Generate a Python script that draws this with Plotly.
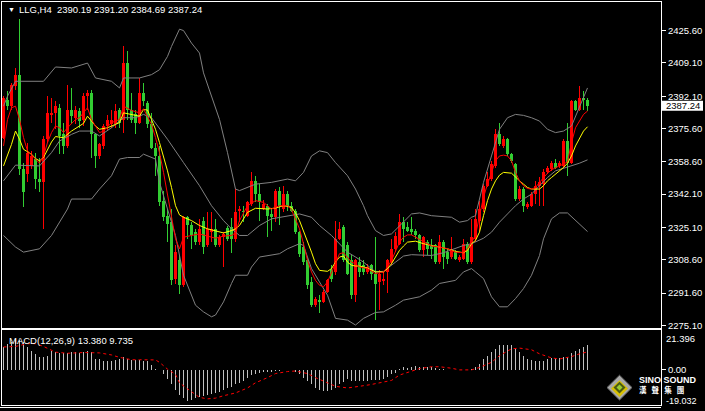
import plotly.graph_objects as go

W, H = 705, 411

# ---------------- data ----------------
opens = [2370.9, 2390.4, 2387.0, 2397.2, 2403.1, 2354.9, 2352.3, 2356.5, 2359.9, 2349.8,
         2348.1, 2370.1, 2382.3, 2383.3, 2386.2, 2372.6, 2366.7, 2385.3, 2381.1, 2384.5,
         2380.2, 2392.1, 2393.8, 2372.6, 2361.6, 2366.7, 2376.9, 2377.7, 2377.7, 2385.3,
         2380.2, 2409.0, 2385.3, 2382.8, 2378.6, 2393.8, 2388.7, 2377.7, 2365.9, 2361.6,
         2338.7, 2331.1, 2327.8, 2299.0, 2308.3, 2295.6, 2330.3, 2326.1, 2322.7, 2317.6,
         2328.6, 2315.9, 2322.7, 2324.4, 2315.9, 2320.0, 2325.0, 2325.3, 2319.3, 2333.7,
         2333.7, 2331.1, 2337.1, 2348.9, 2342.2, 2334.5, 2336.2, 2332.0, 2330.3, 2343.9,
         2334.5, 2342.2, 2336.2, 2333.7, 2322.7, 2315.0, 2308.3, 2297.3, 2285.4, 2288.0,
         2287.1, 2292.2, 2303.2, 2302.4, 2319.3, 2325.3, 2315.9, 2308.3, 2290.5, 2307.4,
         2305.7, 2302.4, 2305.7, 2301.5, 2297.3, 2298.0, 2302.4, 2307.4, 2314.2, 2316.8,
         2327.8, 2325.3, 2324.4, 2323.5, 2321.0, 2313.4, 2317.6, 2315.9, 2315.9, 2307.4,
         2317.6, 2312.5, 2310.0, 2312.5, 2308.3, 2309.1, 2316.8, 2307.4, 2319.3, 2328.6,
         2334.5, 2346.4, 2349.8, 2356.6, 2372.6, 2366.7, 2370.1, 2362.5, 2357.4, 2339.6,
         2344.7, 2335.4, 2336.2, 2342.2, 2346.4, 2347.2, 2353.2, 2354.9, 2358.2, 2356.6,
         2356.6, 2369.2, 2358.2, 2389.5, 2385.3, 2391.2, 2390.19]
highs = [2392.1, 2394.6, 2398.9, 2406.5, 2431.4, 2358.2, 2368.4, 2364.2, 2363.3, 2360.8,
         2371.8, 2392.1, 2391.2, 2389.5, 2387.9, 2378.6, 2398.0, 2396.3, 2387.0, 2386.2,
         2393.8, 2395.5, 2395.5, 2373.5, 2368.4, 2378.0, 2382.3, 2385.0, 2388.0, 2386.0,
         2417.8, 2415.0, 2393.8, 2385.3, 2401.4, 2398.9, 2389.5, 2383.6, 2368.4, 2366.7,
         2343.9, 2334.5, 2334.5, 2316.0, 2310.8, 2331.1, 2331.1, 2327.8, 2324.4, 2329.5,
         2330.3, 2332.8, 2332.8, 2329.5, 2321.0, 2323.0, 2326.0, 2330.0, 2344.7, 2336.0,
         2336.2, 2338.7, 2353.2, 2351.5, 2347.2, 2339.0, 2337.0, 2334.5, 2344.7, 2345.5,
         2346.4, 2343.9, 2337.9, 2334.5, 2323.5, 2317.6, 2310.0, 2299.8, 2289.7, 2290.5,
         2293.0, 2299.0, 2305.7, 2328.6, 2327.8, 2326.1, 2317.6, 2310.8, 2309.0, 2310.0,
         2308.3, 2306.6, 2306.6, 2320.1, 2303.2, 2302.4, 2309.1, 2319.3, 2322.7, 2332.0,
         2330.3, 2327.8, 2330.3, 2324.4, 2321.8, 2320.9, 2318.5, 2319.3, 2316.8, 2321.0,
         2318.5, 2314.2, 2320.1, 2313.4, 2310.8, 2319.3, 2317.6, 2329.5, 2334.5, 2338.7,
         2347.2, 2353.2, 2359.1, 2375.2, 2378.6, 2371.8, 2370.9, 2363.3, 2358.2, 2346.4,
         2345.5, 2337.9, 2343.0, 2348.9, 2350.6, 2354.9, 2356.6, 2359.1, 2359.9, 2359.1,
         2370.1, 2378.6, 2390.4, 2390.4, 2397.2, 2394.6, 2391.20]
lows = [2370.1, 2385.3, 2385.3, 2395.5, 2352.0, 2335.4, 2348.1, 2354.9, 2344.7, 2343.0,
        2324.4, 2368.4, 2378.6, 2375.2, 2362.5, 2362.5, 2365.9, 2377.7, 2377.7, 2376.0,
        2376.9, 2385.3, 2360.8, 2355.7, 2360.0, 2365.0, 2375.0, 2376.0, 2376.0, 2376.0,
        2373.5, 2380.0, 2378.6, 2372.6, 2377.7, 2387.0, 2376.0, 2365.0, 2351.5, 2336.2,
        2328.6, 2317.6, 2295.6, 2296.0, 2290.9, 2294.8, 2319.3, 2314.2, 2315.9, 2316.0,
        2311.7, 2315.1, 2317.6, 2315.1, 2315.1, 2305.0, 2318.0, 2312.0, 2317.6, 2328.0,
        2327.8, 2330.3, 2336.2, 2337.9, 2328.6, 2334.0, 2320.1, 2323.5, 2327.8, 2326.1,
        2332.8, 2333.7, 2332.8, 2321.8, 2310.0, 2305.7, 2293.9, 2284.6, 2284.6, 2281.2,
        2286.3, 2291.4, 2297.3, 2300.7, 2318.5, 2307.4, 2300.7, 2288.8, 2287.1, 2299.8,
        2300.7, 2301.5, 2298.1, 2277.8, 2282.9, 2295.6, 2291.4, 2305.7, 2312.5, 2315.9,
        2317.6, 2322.7, 2321.0, 2319.3, 2312.5, 2310.0, 2310.8, 2309.1, 2306.6, 2306.6,
        2304.0, 2306.6, 2309.1, 2308.3, 2307.4, 2308.3, 2306.6, 2306.6, 2317.6, 2323.5,
        2332.8, 2345.5, 2349.0, 2355.7, 2366.7, 2365.9, 2361.6, 2358.2, 2338.8, 2338.8,
        2332.8, 2334.5, 2335.4, 2337.1, 2336.2, 2336.2, 2352.3, 2354.0, 2354.9, 2355.7,
        2355.7, 2351.5, 2357.4, 2384.5, 2384.5, 2385.3, 2384.69]
closes = [2391.2, 2387.0, 2398.0, 2403.1, 2354.9, 2343.0, 2363.3, 2361.6, 2349.8, 2348.1,
          2370.1, 2383.6, 2383.6, 2387.0, 2371.8, 2366.7, 2385.3, 2381.9, 2385.3, 2379.4,
          2392.4, 2393.8, 2372.6, 2361.6, 2367.5, 2376.9, 2380.2, 2380.2, 2384.5, 2378.6,
          2409.0, 2385.3, 2380.2, 2378.6, 2393.8, 2389.5, 2377.7, 2365.9, 2361.6, 2337.9,
          2330.3, 2326.9, 2298.1, 2312.5, 2295.6, 2330.3, 2326.1, 2321.0, 2317.6, 2324.4,
          2315.1, 2324.4, 2324.4, 2315.9, 2320.1, 2322.0, 2319.0, 2319.3, 2332.8, 2334.5,
          2332.8, 2337.9, 2348.9, 2342.2, 2337.9, 2337.0, 2331.1, 2330.3, 2343.9, 2336.2,
          2342.2, 2336.2, 2333.7, 2322.7, 2311.7, 2307.4, 2295.6, 2285.4, 2288.8, 2287.0,
          2292.2, 2298.1, 2299.0, 2319.3, 2324.4, 2308.3, 2301.5, 2290.5, 2308.3, 2302.4,
          2302.4, 2305.0, 2301.5, 2296.4, 2301.5, 2299.0, 2308.3, 2314.2, 2320.9, 2327.8,
          2324.4, 2323.5, 2322.7, 2321.0, 2313.4, 2320.1, 2314.2, 2314.2, 2307.4, 2317.6,
          2310.0, 2309.1, 2314.2, 2309.1, 2310.0, 2316.8, 2307.4, 2320.0, 2329.5, 2334.5,
          2346.4, 2349.8, 2357.4, 2372.6, 2367.5, 2370.1, 2362.5, 2359.1, 2339.6, 2344.7,
          2336.2, 2337.0, 2342.2, 2346.4, 2348.1, 2353.2, 2355.7, 2358.2, 2355.7, 2358.2,
          2369.2, 2358.2, 2389.5, 2385.3, 2391.2, 2390.4, 2387.24]

# Bollinger bands (bar index, price)
bb_up_idx = [0, 1, 3, 10, 13, 17, 21, 23, 27, 29, 30, 34, 37, 39, 41, 42, 44, 45, 47, 49, 50, 52, 54, 56,
             58, 59, 61, 63, 67, 71, 73, 75, 77, 79, 81, 83, 86, 88, 90, 91, 93, 95, 97, 100, 102, 104,
             107, 112, 114, 116, 117, 118, 120, 122, 124, 126, 128, 130, 132, 134, 136, 138, 140, 142, 144, 146]
bb_up = [2387.0, 2392.1, 2399.7, 2399.7, 2407.0, 2406.5, 2409.0, 2401.4, 2399.7, 2396.3, 2401.4, 2401.4,
         2403.1, 2405.6, 2412.4, 2417.5, 2426.3, 2425.6, 2419.2, 2414.1, 2404.0, 2392.1, 2380.2, 2363.3,
         2344.7, 2343.9, 2345.5, 2347.2, 2348.1, 2349.8, 2348.9, 2353.2, 2361.6, 2364.2, 2363.3, 2358.2,
         2351.5, 2344.7, 2336.2, 2331.1, 2323.5, 2321.0, 2321.8, 2327.8, 2332.0, 2332.5, 2331.1, 2330.3,
         2327.8, 2328.6, 2330.3, 2331.1, 2348.1, 2361.6, 2375.2, 2381.1, 2382.8, 2382.3, 2381.1, 2379.4,
         2375.2, 2373.5, 2374.3, 2376.9, 2387.0, 2396.3]
bb_mid_idx = [0, 3, 9, 12, 14, 17, 19, 22, 24, 27, 29, 30, 33, 35, 37, 41, 45, 49, 52, 55, 57, 59, 61, 64,
              67, 71, 74, 77, 79, 82, 84, 86, 88, 90, 93, 95, 98, 100, 102, 107, 110, 113, 115, 117, 118,
              120, 122, 124, 126, 128, 130, 132, 134, 136, 138, 140, 142, 144, 146]
bb_mid = [2348.9, 2356.9, 2356.5, 2363.3, 2369.2, 2372.6, 2374.3, 2374.3, 2371.8, 2376.0, 2379.4, 2381.1,
          2381.1, 2382.8, 2381.1, 2370.1, 2358.2, 2346.4, 2336.2, 2328.6, 2324.4, 2321.0, 2321.0, 2326.1,
          2329.5, 2331.1, 2332.0, 2330.3, 2326.1, 2321.0, 2316.8, 2312.5, 2310.0, 2307.4, 2302.4, 2302.7,
          2307.4, 2310.5, 2311.2, 2310.8, 2312.2, 2314.2, 2315.9, 2316.8, 2317.6, 2319.6, 2322.7, 2327.8,
          2332.0, 2336.2, 2339.6, 2342.1, 2346.4, 2350.6, 2354.0, 2355.2, 2356.6, 2357.9, 2359.6]
bb_low_idx = [0, 3, 5, 9, 12, 14, 16, 17, 22, 24, 27, 29, 31, 34, 35, 38, 39, 41, 43, 45, 48, 50, 52, 53,
              55, 57, 58, 61, 62, 64, 67, 69, 71, 74, 75, 77, 79, 81, 83, 86, 88, 90, 93, 95, 98, 100, 104,
              107, 109, 113, 115, 117, 118, 120, 122, 124, 126, 128, 130, 132, 134, 135, 137, 139, 141, 143, 146]
bb_low = [2321.0, 2315.1, 2312.5, 2314.2, 2321.0, 2327.8, 2334.5, 2339.6, 2339.6, 2344.7, 2351.5, 2360.0,
          2360.8, 2360.8, 2362.5, 2360.0, 2348.1, 2334.5, 2321.0, 2300.7, 2285.4, 2282.0, 2279.5, 2280.4,
          2287.1, 2296.5, 2300.7, 2300.7, 2304.9, 2310.0, 2310.8, 2311.7, 2314.2, 2316.8, 2315.9, 2304.1,
          2297.3, 2290.5, 2278.7, 2277.8, 2275.3, 2278.7, 2281.7, 2282.0, 2285.4, 2288.0, 2289.7, 2293.1,
          2296.5, 2298.1, 2302.4, 2304.1, 2302.4, 2299.0, 2289.7, 2284.6, 2284.6, 2288.8, 2293.9, 2300.7,
          2310.8, 2319.3, 2329.5, 2332.5, 2332.5, 2328.6, 2323.0]

# slow moving average (yellow)
ma_slow_idx = [0, 2, 3, 4, 5, 7, 8, 9, 10, 11, 12, 13, 15, 17, 19, 20, 21, 22, 23, 24, 26, 28, 29, 30, 32,
               34, 35, 36, 37, 38, 39, 40, 41, 42, 43, 44, 45, 47, 49, 51, 53, 55, 57, 58, 59, 61, 63, 66,
               68, 70, 72, 73, 74, 75, 76, 77, 78, 79, 81, 82, 83, 84, 85, 86, 87, 88, 89, 91, 93, 95, 96,
               97, 98, 99, 100, 101, 103, 105, 107, 109, 111, 113, 115, 116, 117, 118, 119, 120, 121, 122,
               123, 124, 125, 127, 128, 129, 130, 131, 132, 134, 135, 136, 137, 138, 139, 140, 141, 142,
               143, 144, 145, 146]
ma_slow = [2356.5, 2367.5, 2374.3, 2370.1, 2365.0, 2362.5, 2360.3, 2359.1, 2360.8, 2365.0, 2368.7, 2371.5,
           2370.9, 2374.3, 2376.9, 2378.2, 2381.9, 2379.4, 2376.9, 2375.2, 2376.0, 2377.7, 2378.6, 2383.6,
           2382.8, 2381.9, 2385.3, 2385.0, 2380.2, 2375.2, 2368.4, 2361.6, 2354.0, 2345.5, 2336.2, 2331.5,
           2330.3, 2328.6, 2326.1, 2324.4, 2323.2, 2322.3, 2323.5, 2324.4, 2326.1, 2332.8, 2334.9, 2334.5,
           2335.0, 2336.2, 2335.4, 2332.5, 2328.6, 2323.5, 2317.6, 2312.5, 2306.6, 2303.2, 2302.7, 2304.1,
           2307.4, 2310.0, 2310.5, 2307.4, 2305.8, 2305.4, 2305.4, 2304.4, 2302.4, 2302.4, 2304.1, 2306.6,
           2310.0, 2313.4, 2315.6, 2317.6, 2318.1, 2316.8, 2315.9, 2315.1, 2314.2, 2312.9, 2312.2, 2313.4,
           2316.8, 2318.5, 2322.7, 2331.1, 2338.8, 2344.7, 2348.9, 2351.8, 2353.2, 2352.8, 2350.6, 2348.9,
           2347.2, 2345.5, 2344.7, 2344.7, 2346.4, 2348.9, 2350.6, 2352.3, 2354.0, 2355.7, 2357.9, 2361.6,
           2366.7, 2370.9, 2374.3, 2376.5]

# fast moving average (red)
ma_fast_idx = [0, 1, 2, 3, 4, 5, 6, 8, 9, 10, 11, 12, 13, 14, 15, 16, 18, 19, 21, 22, 24, 25, 27, 29, 30,
               32, 34, 35, 36, 37, 38, 39, 40, 41, 42, 43, 44, 45, 47, 49, 51, 53, 55, 57, 58, 59, 61, 63,
               65, 67, 69, 71, 72, 73, 74, 75, 76, 77, 78, 79, 80, 81, 82, 83, 84, 85, 86, 87, 88, 89, 91,
               93, 95, 96, 97, 98, 99, 100, 101, 102, 103, 105, 107, 109, 111, 113, 115, 116, 117, 118, 119,
               120, 121, 122, 123, 124, 125, 126, 127, 128, 129, 130, 131, 132, 133, 134, 135, 136, 137, 138,
               139, 140, 141, 142, 143, 144, 145, 146]
ma_fast = [2366.7, 2380.2, 2386.2, 2387.0, 2380.2, 2371.0, 2364.2, 2359.9, 2357.9, 2361.6, 2368.4, 2373.5,
           2376.9, 2376.0, 2373.5, 2376.0, 2380.2, 2381.1, 2386.2, 2380.2, 2373.5, 2374.3, 2378.6, 2380.2,
           2387.0, 2384.8, 2383.6, 2385.6, 2381.9, 2377.7, 2371.0, 2363.3, 2353.2, 2341.3, 2329.5, 2319.3,
           2314.2, 2320.1, 2321.0, 2321.8, 2320.7, 2319.6, 2320.7, 2321.0, 2322.3, 2328.6, 2336.2, 2338.8,
           2337.9, 2334.5, 2336.2, 2336.2, 2334.2, 2329.5, 2324.4, 2316.8, 2308.3, 2302.4, 2298.1, 2295.6,
           2294.8, 2297.3, 2302.4, 2307.4, 2311.7, 2312.2, 2310.0, 2307.4, 2306.6, 2304.9, 2304.1, 2301.5,
           2302.4, 2304.9, 2308.3, 2313.4, 2317.6, 2320.1, 2321.3, 2321.3, 2320.1, 2317.6, 2315.6, 2315.1,
           2314.2, 2312.5, 2312.2, 2314.2, 2317.6, 2321.0, 2331.1, 2340.5, 2347.2, 2353.2, 2359.1, 2361.6,
           2362.0, 2361.6, 2359.1, 2353.2, 2348.9, 2346.4, 2345.0, 2344.7, 2345.5, 2348.1, 2350.6, 2352.8,
           2354.5, 2355.7, 2356.6, 2357.4, 2358.6, 2368.4, 2376.0, 2379.4, 2382.8, 2384.5]

# MACD(12,26,9) main values (histogram), one per bar
macd_main = [12.4, 14.2, 15.1, 17.0, 16.1, 15.1, 12.4, 10.5, 8.7, 6.8,
             6.8, 7.7, 10.5, 9.6, 9.0, 9.0, 9.0, 9.6, 9.6, 9.0,
             9.6, 10.5, 9.6, 5.9, 5.9, 5.0, 5.0, 5.0, 5.4, 5.9,
             6.8, 5.9, 5.4, 5.4, 5.4, 5.0, 5.0, 2.6, 0.7, 0.2,
             -2.4, -5.2, -7.9, -10.7, -13.5, -15.3, -16.8, -16.2, -15.3, -14.9,
             -14.4, -13.5, -13.1, -12.5, -12.0, -10.7, -9.8, -9.4, -7.9, -7.0,
             -6.1, -4.2, -2.8, -2.0, -1.5, -0.9, -0.9, -0.9, -0.6, -0.6,
             -0.1, 0.1, -0.2, -0.9, -2.4, -4.2, -6.1, -7.9, -9.8, -10.7,
             -11.6, -11.3, -10.7, -9.8, -7.9, -6.5, -5.2, -6.1, -6.1, -6.1,
             -6.1, -6.1, -5.7, -5.7, -5.7, -5.2, -3.9, -2.4, -1.5, 0.3,
             1.3, 0.9, 1.7, 2.2, 1.7, 1.3, 1.3, 1.3, 0.9, 0.4,
             0.4, 0.1, -0.1, 0.2, 0.0, -0.1, 0.1, 0.4, 1.3, 3.1,
             5.9, 7.7, 9.6, 11.4, 13.3, 13.7, 13.7, 13.3, 11.4, 9.6,
             7.7, 5.9, 5.4, 5.0, 4.6, 5.0, 5.9, 6.5, 6.5, 6.5,
             6.8, 7.2, 9.0, 10.5, 11.4, 12.4, 13.38]
# MACD signal line (bar index, value)
sig_idx = [0, 3, 6, 8, 10, 12, 13, 16, 20, 24, 27, 29, 32, 34, 38, 39, 41, 43, 44, 46, 48, 49, 51, 53,
           55, 58, 61, 63, 66, 68, 71, 73, 76, 78, 81, 83, 86, 87, 89, 92, 94, 97, 99, 102, 104, 107, 109,
           112, 114, 117, 119, 122, 124, 127, 129, 132, 134, 137, 139, 142, 144, 146]
sig_val = [12.4, 12.7, 14.2, 14.2, 12.7, 10.5, 9.6, 9.0, 9.4, 9.2, 8.1, 6.8, 5.5, 5.5, 5.4, 4.1, 0.4, -2.4,
           -7.0, -10.3, -13.1, -14.9, -15.7, -15.3, -14.0, -12.5, -9.8, -7.0, -4.2, -2.0, -0.9, -0.6, -2.0,
           -4.2, -7.0, -8.9, -9.8, -9.4, -8.9, -7.9, -7.0, -5.7, -2.8, -0.6, 0.7, 1.7, 1.7, 0.9, 0.0, 0.0,
           1.3, 4.1, 7.7, 11.4, 11.8, 10.9, 8.7, 6.5, 5.9, 7.2, 8.7, 9.735]

price_ticks = [2425.60, 2409.10, 2392.10, 2375.60, 2358.60, 2342.10, 2325.10, 2308.60, 2291.60, 2275.10]
macd_max, macd_min = 21.396, -19.032
header = "LLG,H4  2390.19 2391.20 2384.69 2387.24"
macd_label = "MACD(12,26,9) 13.380 9.735"
last_price = closes[-1]

# ---------------- styling ----------------
UP = "#ff0000"
DOWN = "#32cd32"
BAND = "#808080"
FONT = "Liberation Sans"
TXT = "#ffffff"

def px(x):
    return x / W

def py(y):
    return 1 - y / H

idx = list(range(len(opens)))
colors = [UP if c >= o else DOWN for o, c in zip(opens, closes)]
body_base = [min(o, c) for o, c in zip(opens, closes)]
body_h = [max(abs(c - o), 0.5) for o, c in zip(opens, closes)]
wick_h = [h - l for h, l in zip(highs, lows)]

fig = go.Figure()
fig.add_trace(go.Bar(x=idx, y=wick_h, base=lows, width=0.25, marker=dict(color=colors, line=dict(width=0)),
                     xaxis="x", yaxis="y", showlegend=False, hoverinfo="skip"))
fig.add_trace(go.Bar(x=idx, y=body_h, base=body_base, width=0.75, marker=dict(color=colors, line=dict(width=0)),
                     xaxis="x", yaxis="y", showlegend=False, hoverinfo="skip"))

for xs, ys in [(bb_up_idx, bb_up), (bb_mid_idx, bb_mid), (bb_low_idx, bb_low)]:
    fig.add_trace(go.Scatter(x=xs, y=ys, mode="lines", line=dict(color=BAND, width=1),
                             xaxis="x", yaxis="y", showlegend=False, hoverinfo="skip"))
fig.add_trace(go.Scatter(x=ma_slow_idx, y=ma_slow, mode="lines", line=dict(color="#ffff00", width=1),
                         xaxis="x", yaxis="y", showlegend=False, hoverinfo="skip"))
fig.add_trace(go.Scatter(x=ma_fast_idx, y=ma_fast, mode="lines", line=dict(color="#ff0000", width=1),
                         xaxis="x", yaxis="y", showlegend=False, hoverinfo="skip"))

fig.add_trace(go.Bar(x=idx, y=macd_main, width=0.25, marker=dict(color="#c0c0c0", line=dict(width=0)),
                     xaxis="x2", yaxis="y2", showlegend=False, hoverinfo="skip"))
fig.add_trace(go.Scatter(x=sig_idx, y=sig_val, mode="lines", line=dict(color="#ff0000", width=1, dash="dot"),
                         xaxis="x2", yaxis="y2", showlegend=False, hoverinfo="skip"))

xdom = [px(2), px(661)]
xr = [-0.375, 164.375]
main_top, main_bot = 2, 330
ytop = 2425.6 + (30.7 - main_top) * 0.5079
ybot = 2275.1 - (main_bot - 327) * 0.5079

axis_common = dict(showgrid=False, zeroline=False, showline=True, linecolor="#ffffff", linewidth=1, mirror=True)

fig.update_layout(
    width=W, height=H, margin=dict(l=0, r=0, t=0, b=0),
    paper_bgcolor="#000000", plot_bgcolor="#000000",
    barmode="overlay", bargap=0,
    xaxis=dict(domain=xdom, range=xr, showticklabels=False, ticks="", anchor="y", **axis_common),
    yaxis=dict(domain=[py(main_bot), py(main_top)], range=[ybot, ytop], side="right", anchor="x",
               tickvals=price_ticks, ticktext=[f"{v:.2f}" for v in price_ticks],
               ticks="outside", ticklen=4, tickcolor="#ffffff",
               tickfont=dict(family=FONT, size=9.5, color=TXT), **axis_common),
    xaxis2=dict(domain=xdom, range=xr, showticklabels=False, ticks="", anchor="y2", **axis_common),
    yaxis2=dict(domain=[py(407), py(332)], range=[macd_min, macd_max], side="right", anchor="x2",
                tickvals=[0], ticktext=["0.00"], ticks="outside", ticklen=4, tickcolor="#ffffff",
                tickfont=dict(family=FONT, size=9.5, color=TXT), **axis_common),
)

ann = []
ann.append(dict(x=px(6), y=py(10), xref="paper", yref="paper", text="▼", showarrow=False,
                xanchor="left", yanchor="middle", font=dict(family=FONT, size=7, color=TXT)))
ann.append(dict(x=px(17), y=py(10), xref="paper", yref="paper", text=header, showarrow=False,
                xanchor="left", yanchor="middle", font=dict(family=FONT, size=9.5, color=TXT)))
ann.append(dict(x=px(7), y=py(342), xref="paper", yref="paper", text=macd_label, showarrow=False,
                xanchor="left", yanchor="middle", font=dict(family=FONT, size=9.5, color=TXT)))
ann.append(dict(x=px(664), y=py(340), xref="paper", yref="paper", text=f"{macd_max:.3f}", showarrow=False,
                xanchor="left", yanchor="middle", font=dict(family=FONT, size=9.5, color=TXT)))
ann.append(dict(x=px(664), y=py(402.5), xref="paper", yref="paper", text=f"{macd_min:.3f}", showarrow=False,
                xanchor="left", yanchor="middle", font=dict(family=FONT, size=9, color=TXT)))
ann.append(dict(x=px(683), y=last_price, xref="paper", yref="y", text=f"{last_price:.2f}", showarrow=False,
                xanchor="center", yanchor="middle", font=dict(family=FONT, size=9.5, color="#000000")))
# logo text
ann.append(dict(x=px(637), y=py(382), xref="paper", yref="paper", text="<b>SINO SOUND</b>", showarrow=False,
                xanchor="left", yanchor="middle", font=dict(family=FONT, size=9, color="#ffffff")))
ann.append(dict(x=px(637), y=py(391.5), xref="paper", yref="paper", text="<b>漢   聲   集   團</b>", showarrow=False,
                xanchor="left", yanchor="middle", font=dict(family="Noto Sans CJK TC", size=7.5, color="#ffffff")))

shapes = []
# current price box and tick
shapes.append(dict(type="rect", xref="paper", yref="y", x0=px(662), x1=px(703),
                   y0=last_price - 5 * 0.5079, y1=last_price + 5 * 0.5079,
                   fillcolor="#ffffff", line=dict(width=0), layer="below"))
shapes.append(dict(type="line", xref="paper", yref="y", x0=px(661), x1=px(665), y0=last_price, y1=last_price,
                   line=dict(color="#ffffff", width=1)))
# bottom frame line
shapes.append(dict(type="line", xref="paper", yref="paper", x0=0, x1=px(661), y0=py(409.5), y1=py(409.5),
                   line=dict(color="#ffffff", width=1)))

def diamond(cx, cy, r):
    return (f"M {px(cx)} {py(cy - r)} L {px(cx + r)} {py(cy)} L {px(cx)} {py(cy + r)} "
            f"L {px(cx - r)} {py(cy)} Z")

shapes.append(dict(type="path", xref="paper", yref="paper", path=diamond(619.5, 389.5, 12.5),
                   fillcolor="#a8a8a8", line=dict(color="#606060", width=1)))
shapes.append(dict(type="path", xref="paper", yref="paper", path=diamond(619.5, 390.5, 8.5),
                   fillcolor="#d8c000", line=dict(width=0)))
shapes.append(dict(type="path", xref="paper", yref="paper", path=diamond(619.5, 389.5, 6),
                   fillcolor="#4a5a10", line=dict(width=0)))
shapes.append(dict(type="path", xref="paper", yref="paper", path=diamond(619.5, 389.5, 3),
                   fillcolor="#9acd32", line=dict(width=0)))

fig.update_layout(annotations=ann, shapes=shapes)
fig.write_html("out.html", config={"displayModeBar": False, "staticPlot": True},
               post_script="document.body.style.margin='0';document.body.style.background='#000';")
